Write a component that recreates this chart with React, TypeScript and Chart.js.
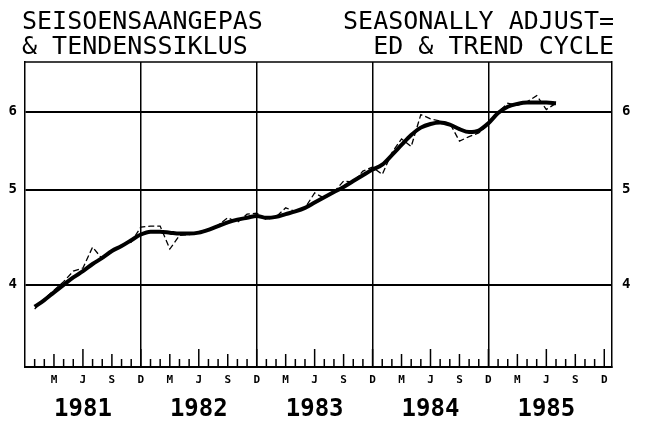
import React, { useEffect, useRef } from "react";
import { Chart, registerables } from "chart.js";

Chart.register(...registerables);

// Months: 1 = Jan 1981 ... 55 = Jul 1985 (0 = Dec 1980)
const trendCycle = [
  3.8, 3.86, 3.93, 4.0, 4.07, 4.13, 4.2, 4.26, 4.33, 4.38, 4.44, 4.5,
  4.53, 4.53, 4.52, 4.51, 4.51, 4.52, 4.55, 4.59, 4.63, 4.66, 4.68, 4.7,
  4.68, 4.69, 4.72, 4.75, 4.79, 4.85, 4.91, 4.97, 5.03, 5.1, 5.17, 5.24,
  5.3, 5.42, 5.55, 5.68, 5.78, 5.83, 5.85, 5.82, 5.76, 5.72, 5.74, 5.84,
  5.98, 6.07, 6.11, 6.13, 6.13, 6.13, 6.12,
];
const seasonallyAdjusted = [
  3.78, 3.87, 3.95, 4.03, 4.13, 4.16, 4.37, 4.25, 4.32, 4.39, 4.42, 4.58,
  4.59, 4.59, 4.35, 4.49, 4.5, 4.52, 4.55, 4.6, 4.68, 4.63, 4.72, 4.73,
  4.66, 4.69, 4.79, 4.75, 4.79, 4.96, 4.9, 4.97, 5.1, 5.09, 5.22, 5.27,
  5.18, 5.45, 5.63, 5.53, 5.96, 5.9, 5.87, 5.84, 5.6, 5.66, 5.71, 5.82,
  5.99, 6.12, 6.09, 6.14, 6.23, 6.03, 6.12,
];
const yTickValues = [4, 5, 6];
const monthTickValues = [3, 6, 9, 12, 15, 18, 21, 24, 27, 30, 33, 36, 39, 42, 45, 48, 51, 54, 57, 60];
const quarterLabels = ["D", "M", "J", "S"];
const yearLabels = ["1981", "1982", "1983", "1984", "1985"];
const yearCentres = [6, 18, 30, 42, 54];
const titleLeft = "SEISOENSAANGEPAS\n& TENDENSSIKLUS";
const titleRight = "SEASONALLY ADJUST=\nED & TREND CYCLE";

const X_MIN = 0;
const X_MAX = 60.8;
const Y_MIN = 3.3;
const Y_MAX = 6.74;
const FONT = "'DejaVu Sans Mono', monospace";

const framePlugin = {
  id: "frameAndTicks",
  afterDatasetsDraw(chart: any) {
    const { ctx, chartArea } = chart;
    const xs = chart.scales.x;
    ctx.save();
    ctx.strokeStyle = "#000";
    // top frame line
    ctx.lineWidth = 1.5;
    ctx.beginPath();
    ctx.moveTo(chartArea.left, chartArea.top);
    ctx.lineTo(chartArea.right, chartArea.top);
    ctx.stroke();
    // monthly tick marks along the bottom, inside the frame
    ctx.lineWidth = 1.5;
    for (let m = 1; m <= 60; m++) {
      const px = xs.getPixelForValue(m);
      const h = m % 6 === 0 ? 18 : m % 3 === 0 ? 13 : 8;
      ctx.beginPath();
      ctx.moveTo(px, chartArea.bottom);
      ctx.lineTo(px, chartArea.bottom - h);
      ctx.stroke();
    }
    ctx.restore();
  },
};

export default function App() {
  const ref = useRef<HTMLCanvasElement | null>(null);

  useEffect(() => {
    if (!ref.current) return;
    const toPoints = (arr: number[]) => arr.map((v, i) => ({ x: i + 1, y: v }));
    const chart = new Chart(ref.current, {
      type: "line",
      data: {
        datasets: [
          {
            label: "Seasonally adjusted",
            data: toPoints(seasonallyAdjusted),
            borderColor: "#000",
            borderWidth: 1.3,
            borderDash: [6, 3],
            pointRadius: 0,
            tension: 0,
            fill: false,
          },
          {
            label: "Trend cycle",
            data: toPoints(trendCycle),
            borderColor: "#000",
            borderWidth: 4,
            pointRadius: 0,
            tension: 0.4,
            cubicInterpolationMode: "monotone",
            fill: false,
          },
        ],
      },
      options: {
        animation: false,
        responsive: false,
        maintainAspectRatio: false,
        layout: { padding: { top: 62, left: 0, right: 0, bottom: 0 } },
        plugins: {
          legend: { display: false },
          tooltip: { enabled: false },
          title: { display: false },
        },
        scales: {
          x: {
            type: "linear",
            position: "bottom",
            weight: 0,
            min: X_MIN,
            max: X_MAX,
            afterBuildTicks: (s: any) => {
              s.ticks = monthTickValues.map((v) => ({ value: v }));
            },
            afterFit: (s: any) => {
              s.height = 22;
            },
            ticks: {
              autoSkip: false,
              maxRotation: 0,
              padding: 7,
              color: "#000",
              font: { family: FONT, size: 11, weight: "bold" },
              callback: (v: any) => quarterLabels[(Number(v) % 12) / 3],
            },
            grid: {
              drawTicks: false,
              lineWidth: 1.5,
              color: (c: any) =>
                c.tick && c.tick.value % 12 === 0 && c.tick.value < 60 ? "#000" : "rgba(0,0,0,0)",
            },
            border: { display: true, color: "#000", width: 2 },
          },
          x2: {
            type: "linear",
            position: "bottom",
            weight: 1,
            min: X_MIN,
            max: X_MAX,
            afterBuildTicks: (s: any) => {
              s.ticks = yearCentres.map((v) => ({ value: v }));
            },
            afterFit: (s: any) => {
              s.height = 44;
            },
            ticks: {
              autoSkip: false,
              maxRotation: 0,
              padding: 6,
              color: "#000",
              font: { family: FONT, size: 24, weight: "bold" },
              callback: (v: any) => yearLabels[yearCentres.indexOf(Number(v))],
            },
            grid: { display: false, drawTicks: false },
            border: { display: false },
          },
          y: {
            type: "logarithmic",
            position: "left",
            min: Y_MIN,
            max: Y_MAX,
            afterBuildTicks: (s: any) => {
              s.ticks = yTickValues.map((v) => ({ value: v }));
            },
            afterFit: (s: any) => {
              s.width = 25;
            },
            ticks: {
              padding: 8,
              color: "#000",
              font: { family: FONT, size: 14, weight: "bold" },
              callback: (v: any) => String(v),
            },
            grid: { drawTicks: false, lineWidth: 2, color: "#000" },
            border: { display: true, color: "#000", width: 1.5 },
          },
          y2: {
            type: "logarithmic",
            position: "right",
            min: Y_MIN,
            max: Y_MAX,
            afterBuildTicks: (s: any) => {
              s.ticks = yTickValues.map((v) => ({ value: v }));
            },
            afterFit: (s: any) => {
              s.width = 33;
            },
            ticks: {
              padding: 10,
              color: "#000",
              font: { family: FONT, size: 14, weight: "bold" },
              callback: (v: any) => String(v),
            },
            grid: { drawTicks: false, drawOnChartArea: false },
            border: { display: true, color: "#000", width: 1.5 },
          },
        },
      } as any,
      plugins: [framePlugin],
    });
    return () => chart.destroy();
  }, []);

  const titleStyle: React.CSSProperties = {
    position: "absolute",
    top: 8,
    fontFamily: FONT,
    fontSize: 25,
    lineHeight: "25px",
    whiteSpace: "pre",
    color: "#000",
  };

  return (
    <div style={{ position: "absolute", left: 0, top: 0, width: 645, height: 433, background: "#fff" }}>
      <canvas ref={ref} width={645} height={433} style={{ display: "block" }} />
      <div style={{ ...titleStyle, left: 22, textAlign: "left" }}>{titleLeft}</div>
      <div style={{ ...titleStyle, left: 0, width: 614, textAlign: "right" }}>{titleRight}</div>
    </div>
  );
}
